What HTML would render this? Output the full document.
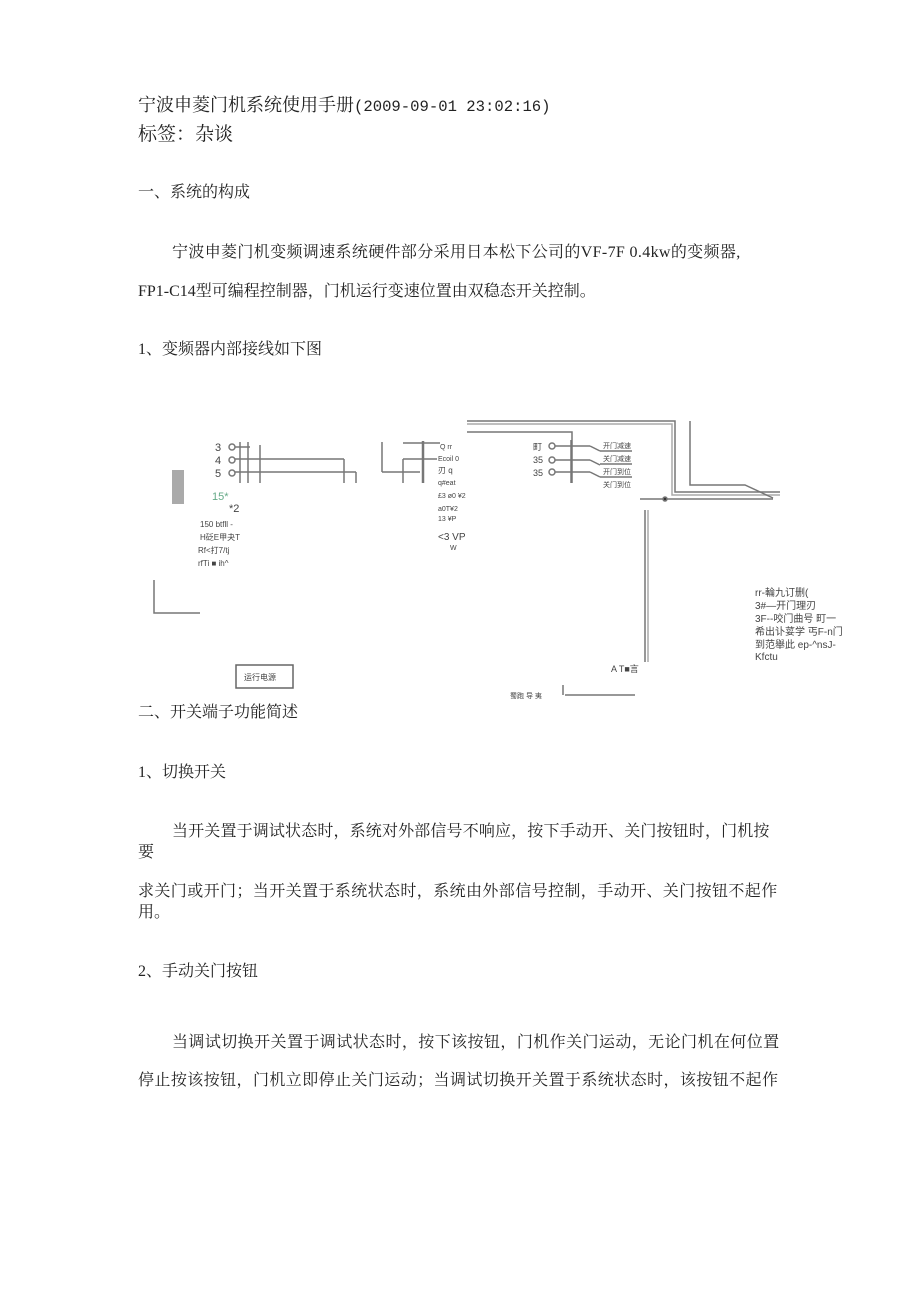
<!DOCTYPE html>
<html><head><meta charset="utf-8"><style>
body{margin:0;background:#fff;}
#p{position:relative;width:920px;height:1302px;overflow:hidden;font-family:"Liberation Serif","Noto Serif CJK SC",serif;color:#222;}
.t{position:absolute;white-space:nowrap;font-size:16px;line-height:20px;}
.s{position:absolute;white-space:nowrap;font-family:"Liberation Sans","Noto Sans CJK SC",sans-serif;color:#444;}
</style></head><body><div id="p">
<div class="t" style="left:138px;top:95px;font-size:18px;">宁波申菱门机系统使用手册<span style="font-family:'Liberation Mono',monospace;font-size:15.6px;">(2009-09-01 23:02:16)</span></div>
<div class="t" style="left:138px;top:125px;font-size:19px;">标签：杂谈</div>
<div class="t" style="left:138px;top:183px;">一、系统的构成</div>
<div class="t" style="left:172px;top:243px;letter-spacing:0.35px;">宁波申菱门机变频调速系统硬件部分采用日本松下公司的VF-7F 0.4kw的变频器,</div>
<div class="t" style="left:138px;top:282px;">FP1-C14型可编程控制器，门机运行变速位置由双稳态开关控制。</div>
<div class="t" style="left:138px;top:340px;">1、变频器内部接线如下图</div>
<div class="t" style="left:138px;top:703px;">二、开关端子功能简述</div>
<div class="t" style="left:138px;top:763px;">1、切换开关</div>
<div class="t" style="left:172px;top:822px;letter-spacing:0.15px;">当开关置于调试状态时，系统对外部信号不响应，按下手动开、关门按钮时，门机按</div>
<div class="t" style="left:138px;top:843px;">要</div>
<div class="t" style="left:138px;top:882px;letter-spacing:0.4px;">求关门或开门；当开关置于系统状态时，系统由外部信号控制，手动开、关门按钮不起作</div>
<div class="t" style="left:138px;top:903px;">用。</div>
<div class="t" style="left:138px;top:962px;">2、手动关门按钮</div>
<div class="t" style="left:172px;top:1033px;letter-spacing:0.42px;">当调试切换开关置于调试状态时，按下该按钮，门机作关门运动，无论门机在何位置</div>
<div class="t" style="left:138px;top:1071px;letter-spacing:0.42px;">停止按该按钮，门机立即停止关门运动；当调试切换开关置于系统状态时，该按钮不起作</div>

<svg style="position:absolute;left:0;top:0" width="920" height="1302" stroke="#777" fill="none" stroke-width="1.5">
<g>
<circle cx="232" cy="447" r="3"/><circle cx="232" cy="460" r="3"/><circle cx="232" cy="473" r="3"/>
<line x1="235" y1="447" x2="250" y2="447"/>
<line x1="235" y1="459" x2="344" y2="459"/><line x1="344" y1="459" x2="344" y2="483"/>
<line x1="235" y1="472" x2="356" y2="472"/><line x1="356" y1="472" x2="356" y2="483"/>
<line x1="240" y1="442" x2="240" y2="483"/><line x1="248" y1="442" x2="248" y2="483"/><line x1="260" y1="445" x2="260" y2="483"/>
<rect x="172" y="470" width="12" height="34" fill="#aaa" stroke="none"/>
<polyline points="154,580 154,613 200,613"/>
<rect x="236" y="665" width="57" height="23" stroke="#666"/>
<line x1="382" y1="442" x2="382" y2="472"/><line x1="382" y1="472" x2="420" y2="472"/>
<line x1="403" y1="443" x2="440" y2="443"/><line x1="403" y1="459" x2="437" y2="459"/><line x1="403" y1="459" x2="403" y2="483"/>
<line x1="423" y1="441" x2="423" y2="483" stroke-width="2.5"/>
<polyline points="467,421 675,421 675,492 780,492"/>
<polyline points="467,424 672,424 672,495 780,495" stroke="#aaa"/>
<polyline points="467,432 572,432 572,483"/>
<polyline points="690,421 690,485 745,485 773,498"/>
<line x1="640" y1="499" x2="773" y2="499"/>
<circle cx="665" cy="499" r="2" fill="#333"/>
<circle cx="552" cy="446" r="3"/><circle cx="552" cy="460" r="3"/><circle cx="552" cy="472" r="3"/>
<line x1="555" y1="446" x2="590" y2="446"/><line x1="555" y1="460" x2="590" y2="460"/><line x1="555" y1="472" x2="590" y2="472"/>
<line x1="571" y1="440" x2="571" y2="483"/>
<line x1="590" y1="446" x2="600" y2="451"/><line x1="590" y1="460" x2="600" y2="465"/><line x1="590" y1="472" x2="600" y2="477"/>
<line x1="600" y1="451" x2="632" y2="451"/><line x1="600" y1="464" x2="632" y2="464"/><line x1="600" y1="477" x2="632" y2="477"/>
<line x1="645" y1="510" x2="645" y2="662"/><line x1="648" y1="510" x2="648" y2="662" stroke="#aaa"/>
<line x1="565" y1="695" x2="635" y2="695"/><line x1="563" y1="685" x2="563" y2="695"/>
</g>
<g fill="#444" stroke="none" font-family="Liberation Sans, Noto Sans CJK SC, sans-serif">
<text x="215" y="451" font-size="11">3</text><text x="215" y="464" font-size="11">4</text><text x="215" y="477" font-size="11">5</text>
<text x="533" y="450" font-size="9">町</text><text x="533" y="463" font-size="9">35</text><text x="533" y="476" font-size="9">35</text>
<text x="603" y="448" font-size="7">开门减速</text><text x="603" y="461" font-size="7">关门减速</text><text x="603" y="474" font-size="7">开门到位</text><text x="603" y="487" font-size="7">关门到位</text>
<text x="212" y="500" font-size="11" fill="#6a8">15*</text>
<text x="229" y="512" font-size="11">*2</text>
<text x="200" y="527" font-size="8">150 btfll -</text>
<text x="200" y="540" font-size="8">H砭E甲夬T</text>
<text x="198" y="553" font-size="8">Rf&lt;打7/tj</text>
<text x="198" y="566" font-size="8">rfTi ■ ih^</text>
<text x="440" y="449" font-size="7">Q rr</text>
<text x="438" y="461" font-size="7">Ecoil 0</text>
<text x="438" y="473" font-size="8">刃  q</text>
<text x="438" y="485" font-size="7">q#eat</text>
<text x="438" y="498" font-size="7">£3 ø0 ¥2</text>
<text x="438" y="511" font-size="7">a0T¥2</text>
<text x="438" y="521" font-size="7">13 ¥P</text>
<text x="438" y="540" font-size="10">&lt;3 VP</text>
<text x="450" y="550" font-size="7">W</text>
<text x="244" y="680" font-size="8">运行电源</text>
<text x="611" y="672" font-size="9">A T■言</text>
<text x="510" y="698" font-size="7">蜀跑 导 夷</text>
<g font-size="10"><text x="755" y="596">rr-輪九订删(</text><text x="755" y="609">3#—开门理刃</text><text x="755" y="622">3F--咬门曲号  町一</text><text x="755" y="635">希出讣荽学  丐F-n门</text><text x="755" y="648">到范舉此  ep-^nsJ-</text><text x="755" y="660">Kfctu</text></g>
</g>
</svg>
</div></body></html>
